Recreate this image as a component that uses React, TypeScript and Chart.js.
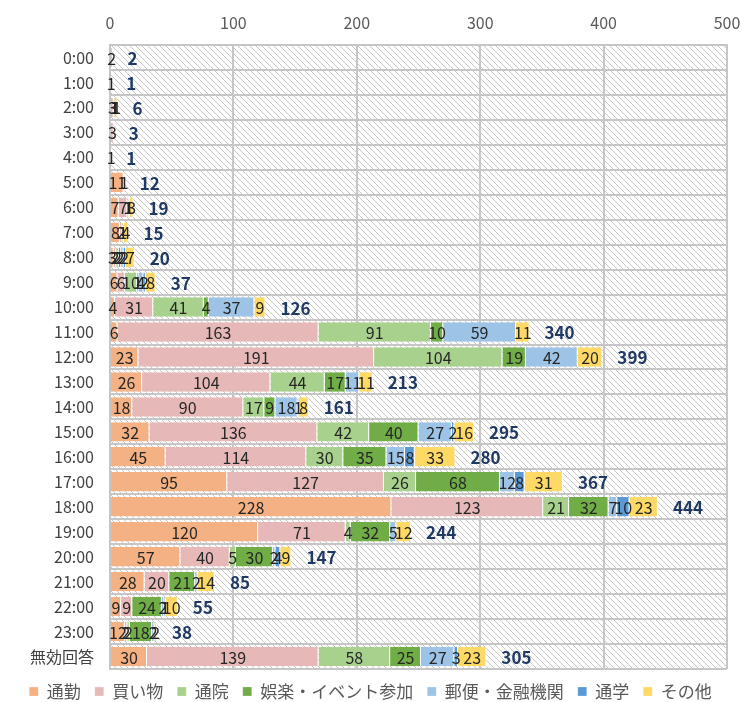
import { useEffect, useRef } from 'react';
import { Chart, registerables } from 'chart.js';

Chart.register(...registerables);

const FONT = "'Noto Sans CJK JP', 'Noto Sans', sans-serif";

const categories = [
  '0:00', '1:00', '2:00', '3:00', '4:00', '5:00', '6:00', '7:00', '8:00', '9:00',
  '10:00', '11:00', '12:00', '13:00', '14:00', '15:00', '16:00', '17:00', '18:00',
  '19:00', '20:00', '21:00', '22:00', '23:00', '無効回答',
];

const commute = [2, 1, 0, 0, 1, 11, 7, 8, 3, 6, 4, 6, 23, 26, 18, 32, 45, 95, 228, 120, 57, 28, 9, 12, 30];
const shopping = [0, 0, 3, 3, 0, 1, 7, 2, 2, 6, 31, 163, 191, 104, 90, 136, 114, 127, 123, 71, 40, 20, 9, 2, 139];
const hospital = [0, 0, 0, 0, 0, 0, 1, 1, 2, 10, 41, 91, 104, 44, 17, 42, 30, 26, 21, 4, 5, 0, 0, 2, 58];
const leisure = [0, 0, 1, 0, 0, 0, 0, 0, 2, 1, 4, 10, 19, 17, 9, 40, 35, 68, 32, 32, 30, 21, 24, 18, 25];
const postal = [0, 0, 1, 0, 0, 0, 1, 0, 2, 4, 37, 59, 42, 11, 18, 27, 15, 12, 7, 5, 2, 2, 2, 2, 27];
const school = [0, 0, 0, 0, 0, 0, 0, 0, 2, 2, 0, 0, 0, 0, 1, 2, 8, 8, 10, 0, 4, 0, 1, 0, 3];
const other = [0, 0, 1, 0, 0, 0, 3, 4, 7, 8, 9, 11, 20, 11, 8, 16, 33, 31, 23, 12, 9, 14, 10, 2, 23];
const totals = [2, 1, 6, 3, 1, 12, 19, 15, 20, 37, 126, 340, 399, 213, 161, 295, 280, 367, 444, 244, 147, 85, 55, 38, 305];

const xTicks = [0, 100, 200, 300, 400, 500];

const seriesNames = ['通勤', '買い物', '通院', '娯楽・イベント参加', '郵便・金融機関', '通学', 'その他'];
const seriesData = [commute, shopping, hospital, leisure, postal, school, other];
const seriesColors = ['#F4B183', '#E6B9B8', '#A9D18E', '#70AD47', '#9DC3E6', '#5B9BD5', '#FFD966'];

function makePattern(): CanvasPattern | string {
  const c = document.createElement('canvas');
  const s = 6;
  c.width = s;
  c.height = s;
  const g = c.getContext('2d');
  if (!g) return '#ffffff';
  g.fillStyle = '#ffffff';
  g.fillRect(0, 0, s, s);
  g.strokeStyle = '#c6c6c6';
  g.lineWidth = 1;
  g.beginPath();
  g.moveTo(-1, -1);
  g.lineTo(s + 1, s + 1);
  g.moveTo(-1, s - 1);
  g.lineTo(1, s + 1);
  g.moveTo(s - 1, -1);
  g.lineTo(s + 1, 1);
  g.stroke();
  const p = g.createPattern(c, 'repeat');
  return p || '#ffffff';
}

const hatchPlugin = {
  id: 'hatchBg',
  beforeDraw(chart: any) {
    const { ctx, chartArea } = chart;
    if (!chartArea) return;
    ctx.save();
    ctx.fillStyle = makePattern();
    ctx.fillRect(chartArea.left, chartArea.top, chartArea.right - chartArea.left, chartArea.bottom - chartArea.top);
    ctx.restore();
  },
};

const labelPlugin = {
  id: 'segLabels',
  afterDatasetsDraw(chart: any) {
    const { ctx } = chart;
    ctx.save();
    ctx.font = `16px ${FONT}`;
    ctx.textAlign = 'center';
    ctx.textBaseline = 'middle';
    ctx.fillStyle = '#262626';
    chart.data.datasets.forEach((ds: any, i: number) => {
      const meta = chart.getDatasetMeta(i);
      meta.data.forEach((el: any, j: number) => {
        const v = ds.data[j];
        if (!v) return;
        const p = el.getProps(['x', 'base', 'y'], true);
        ctx.fillText(String(v), (p.x + p.base) / 2, p.y + 1);
      });
    });
    const xs = chart.scales.x;
    const ys = chart.scales.y;
    ctx.font = `bold 17px ${FONT}`;
    ctx.textAlign = 'left';
    ctx.fillStyle = '#1F3864';
    totals.forEach((t, j) => {
      const x = xs.getPixelForValue(t);
      const y = ys.getPixelForValue(j);
      ctx.fillText(String(t), x + 15, y + 1);
    });
    ctx.restore();
  },
};

export default function App() {
  const ref = useRef<HTMLCanvasElement | null>(null);
  useEffect(() => {
    document.body.style.margin = '0';
    if (!ref.current) return;
    const chart = new Chart(ref.current, {
      type: 'bar',
      data: {
        labels: categories,
        datasets: seriesNames.map((name, i) => ({
          label: name,
          data: seriesData[i],
          backgroundColor: seriesColors[i],
          borderColor: '#ffffff',
          borderWidth: { left: 0, right: 1, top: 0, bottom: 0 },
          borderSkipped: false,
          barPercentage: 0.78,
          categoryPercentage: 1,
        })),
      },
      options: {
        indexAxis: 'y',
        responsive: false,
        animation: false,
        maintainAspectRatio: false,
        layout: { padding: { left: 0, right: 0, top: 0, bottom: -8 } },
        plugins: {
          legend: {
            position: 'bottom',
            labels: {
              boxWidth: 9,
              boxHeight: 9,
              padding: 14,
              color: '#595959',
              font: { size: 17, family: FONT },
            },
          },
          tooltip: { enabled: false },
        },
        scales: {
          x: {
            position: 'top',
            stacked: true,
            min: 0,
            max: 500,
            afterBuildTicks: (s: any) => {
              s.ticks = xTicks.map((v) => ({ value: v }));
            },
            ticks: { color: '#595959', font: { size: 16, family: FONT }, padding: 12 },
            grid: { color: '#c6c6c6', lineWidth: 2, drawTicks: false },
            border: { display: true, color: '#c6c6c6', width: 2 },
            afterFit: (s: any) => {
              s.height = 45;
              s.paddingLeft = 0;
              s.paddingRight = 14;
            },
          },
          y: {
            stacked: true,
            ticks: { color: '#404040', font: { size: 16, family: FONT }, padding: 16 },
            grid: { color: '#c6c6c6', lineWidth: 2, drawTicks: false, offset: true },
            border: { display: true, color: '#c6c6c6', width: 2 },
            afterFit: (s: any) => {
              s.width = 110;
              s.paddingTop = 0;
              s.paddingBottom = 0;
            },
          },
        },
      },
      plugins: [hatchPlugin, labelPlugin],
    } as any);
    return () => chart.destroy();
  }, []);
  return (
    <div style={{ width: 741, height: 702 }}>
      <canvas ref={ref} width={741} height={702} />
    </div>
  );
}
